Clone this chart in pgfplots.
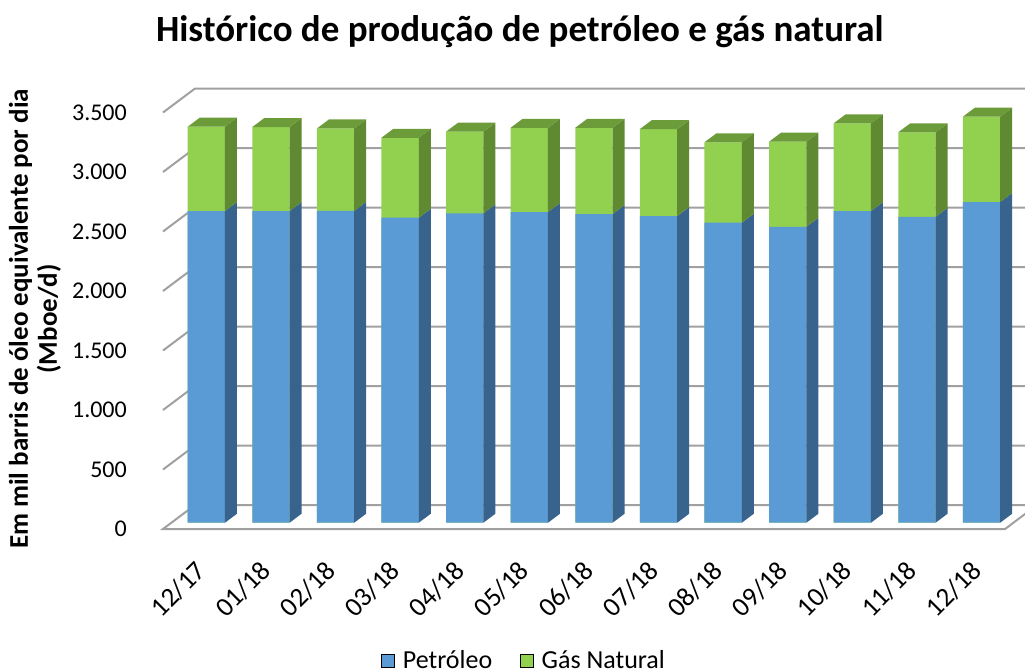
\documentclass[border=0pt]{standalone}
\usepackage{fontspec}
\setmainfont{Carlito}
\usepackage{pgfplots}
\usepackage{pgfplotstable}
\pgfplotsset{compat=1.18}
\definecolor{oilfront}{HTML}{5B9BD5}
\definecolor{oilside}{HTML}{38638D}
\definecolor{gasfront}{HTML}{92D050}
\definecolor{gasside}{HTML}{5F8A31}
\definecolor{gastop}{HTML}{6C9B3A}
\definecolor{gridc}{HTML}{A0A0A0}
\pgfplotstableread{
x oil gas
0 2619 709
1 2619 706
2 2620 693
3 2563 672
4 2600 686
5 2611 708
6 2594 725
7 2577 731
8 2521 676
9 2487 715
10 2619 737
11 2571 710
12 2695 717
}\data
\begin{document}
\begin{tikzpicture}
\path[use as bounding box] (0,0) rectangle (1025pt,670pt);
\begin{axis}[
  at={(160pt,135pt)}, anchor=south west,
  x=64.6pt, y=0.119pt,
  xmin=-0.7167, xmax=12.673, ymin=-103, ymax=3720,
  enlargelimits=false,
  axis line style={draw=none},
  major tick length=0pt,
  xtick={0,1,...,12},
  xticklabels={12/17,01/18,02/18,03/18,04/18,05/18,06/18,07/18,08/18,09/18,10/18,11/18,12/18},
  xticklabel style={xshift=-12pt, yshift=-24pt, rotate=45, anchor=north east, inner sep=0pt, font=\fontsize{27}{30}\selectfont},
  ytick={-53,447,947,1447,1947,2447,2947,3447},
  yticklabels={0,500,1.000,1.500,2.000,2.500,3.000,3.500},
  yticklabel style={anchor=east, inner sep=0pt, xshift=-33pt, font=\fontsize{24}{28}\selectfont},
  /pgf/number format/assume math mode=true,
  title={Histórico de produção de petróleo e gás natural},
  title style={at={(rel axis cs:0.416,1.094)}, anchor=center, font=\fontsize{37}{44}\selectfont\bfseries},
  ylabel={Em mil barris de óleo equivalente por dia\\(Mboe/d)},
  ylabel style={at={(rel axis cs:-0.1445,0.475)}, anchor=center, rotate=0, align=center, font=\fontsize{27}{29}\selectfont\bfseries},
  legend columns=2,
  legend style={draw=none, fill=none, at={(rel axis cs:0.421,-0.276)}, anchor=center, font=\fontsize{26}{28}\selectfont,
    /tikz/every even column/.append style={column sep=26pt}},
  legend image code/.code={\fill[#1] (0pt,-6.5pt) rectangle (13pt,6.5pt); \path (19pt,0pt);},
]
% back wall grid lines
\addplot[gridc, line width=2pt, forget plot] coordinates {(-0.6703,447) (-0.175,649) (13,649)};
\addplot[gridc, line width=2pt, forget plot] coordinates {(-0.6703,947) (-0.175,1149) (13,1149)};
\addplot[gridc, line width=2pt, forget plot] coordinates {(-0.6703,1447) (-0.175,1649) (13,1649)};
\addplot[gridc, line width=2pt, forget plot] coordinates {(-0.6703,1947) (-0.175,2149) (13,2149)};
\addplot[gridc, line width=2pt, forget plot] coordinates {(-0.6703,2447) (-0.175,2649) (13,2649)};
\addplot[gridc, line width=2pt, forget plot] coordinates {(-0.6703,2947) (-0.175,3149) (13,3149)};
\addplot[gridc, line width=2pt, forget plot] coordinates {(-0.6703,3447) (-0.175,3649) (13,3649)};
% floor
\addplot[fill=white, draw=gridc, line width=2pt, forget plot] coordinates {(-0.6703,-53) (12.364,-53) (12.859,149) (-0.175,149)} -- cycle;
% front faces
\addplot[ybar, bar width=0.5774, bar shift=0pt, fill=gasfront, draw=none, forget plot] table[x=x, y expr=\thisrow{oil}+\thisrow{gas}]{\data};
\addplot[ybar, bar width=0.5774, bar shift=0pt, fill=oilfront, draw=none, forget plot] table[x=x, y=oil]{\data};
% side and top faces
\pgfplotsforeachungrouped \i in {0,1,...,12}{%
  \pgfplotstablegetelem{\i}{oil}\of\data \let\oil\pgfplotsretval
  \pgfplotstablegetelem{\i}{gas}\of\data \let\gas\pgfplotsretval
  \pgfmathsetmacro\tot{\oil+\gas}%
  \pgfmathsetmacro\xa{\i-0.2887}%
  \pgfmathsetmacro\xb{\i+0.2887}%
  \pgfmathsetmacro\xc{\i+0.4745}%
  \pgfmathsetmacro\xd{\i-0.1029}%
  \pgfmathsetmacro\oilb{\oil+75.6}%
  \pgfmathsetmacro\totb{\tot+75.6}%
  \edef\cmd{%
    \noexpand\addplot[draw=none,fill=oilside,forget plot] coordinates {(\xb,0) (\xb,\oil) (\xc,\oilb) (\xc,75.6)} -- cycle;
    \noexpand\addplot[draw=none,fill=gasside,forget plot] coordinates {(\xb,\oil) (\xb,\tot) (\xc,\totb) (\xc,\oilb)} -- cycle;
    \noexpand\addplot[draw=none,fill=gastop,forget plot] coordinates {(\xa,\tot) (\xb,\tot) (\xc,\totb) (\xd,\totb)} -- cycle;
  }\cmd
}
\addlegendimage{fill=oilfront}
\addlegendentry{Petróleo}
\addlegendimage{fill=gasfront}
\addlegendentry{Gás Natural}
\end{axis}
\end{tikzpicture}
\end{document}
